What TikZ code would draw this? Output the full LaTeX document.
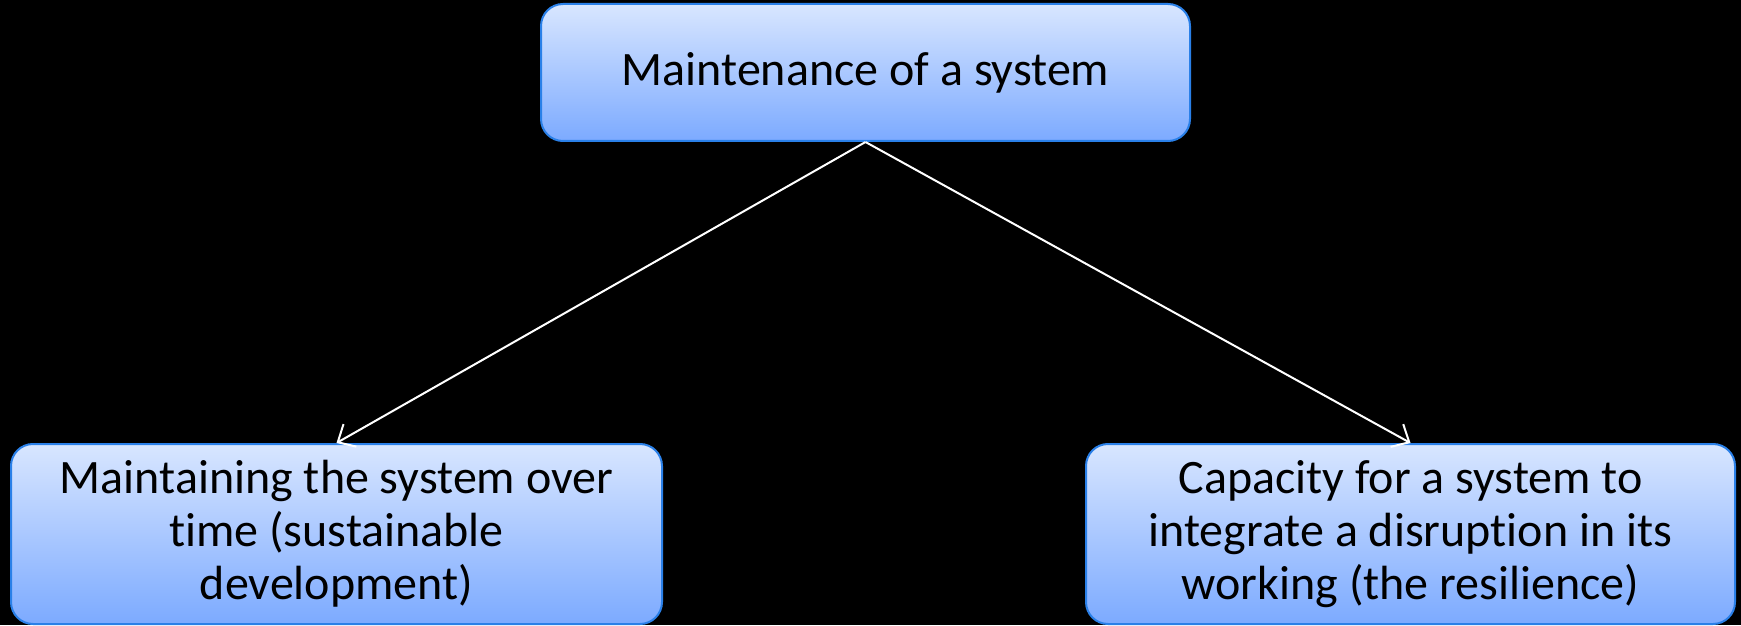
\documentclass[tikz,border=0pt]{standalone}
\usepackage{fontspec}
\setmainfont{Carlito}[Ligatures=NoCommon]
\usetikzlibrary{arrows.meta}
\definecolor{boxtop}{HTML}{D8E6FF}
\definecolor{boxbottom}{HTML}{7CAAFF}
\definecolor{boxline}{HTML}{2A80E8}
\tikzset{
  topic/.style={draw=boxline, line width=2pt, rounded corners=22pt,
    top color=boxtop, bottom color=boxbottom, align=center,
    font=\fontsize{48}{53}\selectfont, inner sep=0pt},
  link/.style={white, line width=2pt, -{Straight Barb[length=14pt,width=26pt]}}
}
\begin{document}
\begin{tikzpicture}[x=1pt,y=1pt]
\fill[black] (0,0) rectangle (1741,625);
\useasboundingbox (0,0) rectangle (1741,625);
\node[topic, minimum width=649pt, minimum height=137pt] (main) at (865.5,552.5) {Maintenance of a system};
\node[topic, minimum width=651pt, minimum height=180pt] (time) at (336.5,91) {Maintaining the system over\\time (sustainable\\development)};
\node[topic, minimum width=649pt, minimum height=180pt] (resil) at (1410.5,91) {Capacity for a system to\\integrate a disruption in its\\working (the resilience)};
\draw[link] (main.south) -- (time.north);
\draw[link] (main.south) -- (resil.north);
\end{tikzpicture}
\end{document}
